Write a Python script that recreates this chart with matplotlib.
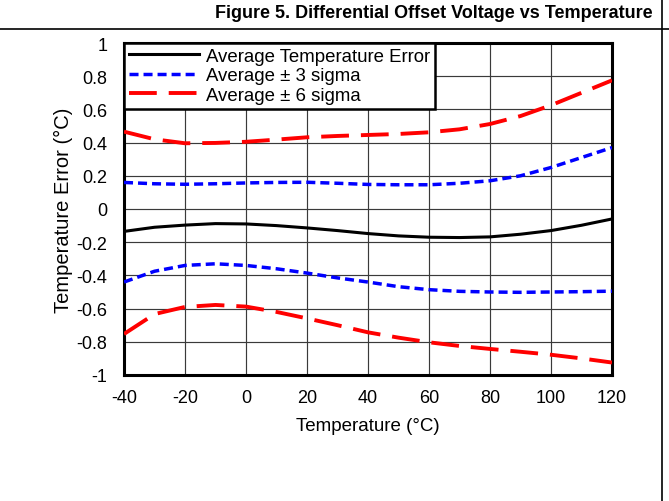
import matplotlib
matplotlib.use("Agg")
import matplotlib.pyplot as plt
from matplotlib.lines import Line2D

plt.rcParams['font.family'] = ['Liberation Sans', 'DejaVu Sans']
plt.rcParams['lines.scale_dashes'] = False

temps = [-40, -30, -20, -10, 0, 10, 20, 30, 40, 50, 60, 70, 80, 90, 100, 110, 120]
avg = [-0.135, -0.11, -0.097, -0.088, -0.09, -0.10, -0.114, -0.13, -0.148, -0.162,
       -0.17, -0.172, -0.168, -0.152, -0.13, -0.098, -0.06]
plus3 = [0.16, 0.152, 0.149, 0.152, 0.157, 0.16, 0.161, 0.155, 0.148, 0.146,
         0.146, 0.155, 0.17, 0.2, 0.25, 0.31, 0.37]
minus3 = [-0.44, -0.375, -0.34, -0.33, -0.34, -0.36, -0.386, -0.415, -0.44, -0.468,
          -0.486, -0.496, -0.50, -0.502, -0.50, -0.498, -0.495]
plus6 = [0.466, 0.42, 0.396, 0.398, 0.405, 0.418, 0.432, 0.44, 0.446, 0.452,
         0.462, 0.48, 0.512, 0.56, 0.625, 0.70, 0.775]
minus6 = [-0.753, -0.633, -0.59, -0.578, -0.588, -0.62, -0.659, -0.70, -0.743, -0.775,
          -0.803, -0.825, -0.843, -0.86, -0.878, -0.90, -0.925]

xticks = [-40, -20, 0, 20, 40, 60, 80, 100, 120]
xticklabels = ["-40", "-20", "0", "20", "40", "60", "80", "100", "120"]
yticks = [1, 0.8, 0.6, 0.4, 0.2, 0, -0.2, -0.4, -0.6, -0.8, -1]
yticklabels = ["1", "0.8", "0.6", "0.4", "0.2", "0", "-0.2", "-0.4", "-0.6", "-0.8", "-1"]

W, H = 669, 502
fig = plt.figure(figsize=(W / 100, H / 100), dpi=100)
L, R, T, B = 124, 612, 44, 376
ax = fig.add_axes([L / W, 1 - B / H, (R - L) / W, (B - T) / H])

blue_d = (6.5, 3.6)
red_d = (20, 8.6)
ax.plot(temps, avg, color='black', lw=2.2, label='Average Temperature Error', zorder=3)
ax.plot(temps, plus3, color='#0000FF', lw=2.5, dashes=blue_d, label='Average ± 3 sigma', zorder=3)
ax.plot(temps, minus3, color='#0000FF', lw=2.5, dashes=blue_d, zorder=3)
ax.plot(temps, plus6, color='#FF0000', lw=2.8, dashes=red_d, label='Average ± 6 sigma', zorder=3)
ax.plot(temps, minus6, color='#FF0000', lw=2.8, dashes=red_d, zorder=3)

ax.set_xlim(-40, 120)
ax.set_ylim(-1, 1)
ax.set_xticks(xticks)
ax.set_xticklabels(xticklabels)
ax.set_yticks(yticks)
ax.set_yticklabels(yticklabels)
ax.tick_params(length=0, labelsize=13, colors='black')
ax.tick_params(axis='y', pad=12)
ax.tick_params(axis='x', pad=10)
ax.grid(True, color='#3a3a3a', lw=0.85, zorder=1)
ax.set_axisbelow(True)
for s in ax.spines.values():
    s.set_linewidth(2.2)
    s.set_color('black')

ax.set_xlabel('Temperature (°C)', fontsize=13.5, labelpad=8)
ax.set_ylabel('Temperature Error (°C)', fontsize=14.5)
ax.yaxis.set_label_coords(-0.104, 0.5)

leg = ax.legend(loc='upper left', bbox_to_anchor=(0, 1), borderaxespad=0,
                fancybox=False, framealpha=1, edgecolor='black', fontsize=13.4,
                handlelength=3.8, handletextpad=0.35, borderpad=0.25,
                labelspacing=0.14)
leg.get_frame().set_linewidth(1.8)
leg.set_zorder(5)

fig.text(434 / W, 1 - 13 / H, 'Figure 5. Differential Offset Voltage vs Temperature',
         fontsize=13, fontweight='bold', ha='center', va='center')
fig.add_artist(Line2D([0, 1], [1 - 30 / H, 1 - 30 / H], transform=fig.transFigure,
                      color='black', lw=1.2))
fig.add_artist(Line2D([662 / W, 662 / W], [0, 1], transform=fig.transFigure,
                      color='black', lw=1.2))

fig.savefig('out.png', dpi=100)
